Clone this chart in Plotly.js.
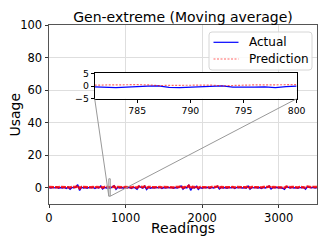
<!DOCTYPE html>
<html><head><meta charset="utf-8">
<script src="https://cdn.plot.ly/plotly-3.0.1.min.js"></script>
<style>html,body{margin:0;padding:0;background:#fff}#chart{width:326px;height:244px}</style>
</head><body><div id="chart"></div>
<script>
// ---- data ----
const chartTitle = "Gen-extreme (Moving average)";
const xTitle = "Readings";
const yTitle = "Usage";
const seriesNames = ["Actual", "Prediction"];
const readingStart = 0;
const readingStep = 25;
const actual = [
 0.1,-0.2,0.2,-0.1,0.3,-0.3,0.1,-0.2,0.2,-0.4,
 0.3,-0.9,0.2,-0.1,0.3,1.9,-1.7,0.4,-0.2,0.1,
 -0.3,0.2,-0.1,0.3,-0.5,0.2,-0.1,1.0,-0.8,0.2,
 -0.2,0.1,-0.3,0.2,1.2,-1.0,0.3,-0.2,0.1,-0.3,
 0.2,-0.1,0.3,-0.4,0.2,-0.1,-0.9,0.8,0.1,-0.2,
 1.0,-1.1,0.2,-0.3,0.1,-0.2,0.3,-0.1,0.2,-0.4,
 0.1,-0.2,0.3,-0.1,0.2,-0.3,0.1,-0.2,0.3,1.1,
 -0.9,0.2,-0.1,1.8,-1.6,0.3,-0.2,0.9,-1.0,0.1,
 -0.3,0.2,-0.1,0.3,-0.4,0.2,-0.1,0.3,0.9,-0.8,
 0.2,-0.2,0.1,-0.3,0.2,-0.1,0.3,-0.5,0.2,-0.1,
 0.3,-0.2,0.1,-0.3,1.0,-0.9,0.2,-0.1,0.3,-0.2,
 0.1,-0.4,0.2,-0.1,0.3,1.0,-0.8,0.2,-0.1,0.3,
 -0.2,0.1,-0.3,-1.0,0.7,0.2,-0.1,0.3,-0.2,0.1,
 -0.3,0.2,-0.1,0.3,-0.9,0.6,0.2,-0.1,0.3,-0.2,0.1
];
const prediction = [
 0.4,0.3,0.5,0.3,0.4,0.3,0.5,0.4,0.3,0.4,
 0.5,0.2,0.4,0.3,0.5,1.2,-0.3,0.5,0.4,0.3,
 0.4,0.5,0.3,0.4,0.2,0.5,0.3,0.8,0.0,0.4,
 0.3,0.5,0.4,0.3,0.8,-0.1,0.5,0.3,0.4,0.3,
 0.5,0.3,0.4,0.2,0.5,0.3,0.0,0.8,0.4,0.3,
 0.8,-0.1,0.4,0.3,0.5,0.3,0.4,0.3,0.5,0.2,
 0.4,0.3,0.5,0.3,0.4,0.2,0.4,0.3,0.5,0.9,
 0.0,0.4,0.3,1.2,-0.4,0.5,0.3,0.8,-0.1,0.4,
 0.3,0.5,0.3,0.4,0.2,0.5,0.3,0.4,0.8,0.0,
 0.4,0.3,0.5,0.3,0.4,0.3,0.5,0.2,0.4,0.3,
 0.5,0.3,0.4,0.3,0.9,0.0,0.4,0.3,0.5,0.3,
 0.4,0.2,0.5,0.3,0.4,0.8,0.0,0.4,0.3,0.5,
 0.3,0.4,0.2,0.0,0.7,0.4,0.3,0.5,0.3,0.4,
 0.2,0.5,0.3,0.4,0.0,0.7,0.4,0.3,0.5,0.3,0.4
];
const zoomReadings = [781,782,783,784,785,786,787,788,789,790,791,792,793,794,795,796,797,798,799,800];
const zoomActual = [-0.3,-0.5,-0.6,-0.4,-0.1,0.0,0.1,-0.5,-0.6,-0.4,-0.1,0.0,0.1,-0.4,-0.5,-0.4,-0.3,-0.6,-0.2,0.0];
const zoomPrediction = [0.4,0.5,0.5,0.6,0.6,0.5,0.2,0.3,0.4,0.5,0.5,0.4,0.1,0.3,0.4,0.5,0.5,0.5,0.6,0.6];
const xTicks = [0,1000,2000,3000];
const yTicks = [0,20,40,60,80,100];
const zoomXTicks = [785,790,795,800];
const zoomYTicks = [-5,0,5];

// ---- layout settings ----
const W = 326, H = 244;
const M = {l:49, r:9, t:25, b:40};
const xRange = [0, 3500];
const yRange = [-10, 100];
const zoomXRange = [781, 800];
const zoomYRange = [-5.2, 5.5];
const insetDomX = [0.1705, 0.924];
const insetDomY = [0.588, 0.7335];
const font = "DejaVu Sans, sans-serif";

function toMainX(d){ return xRange[0] + d*(xRange[1]-xRange[0]); }
function toMainY(d){ return yRange[0] + d*(yRange[1]-yRange[0]); }
const pw = W - M.l - M.r, ph = H - M.t - M.b;
function px2paperX(px){ return (px - M.l)/pw; }
function px2paperY(py){ return (H - M.b - py)/ph; }

const blue = "#0000ff";
const red = "rgba(255,0,0,0.85)";
const redLight = "rgba(255,0,0,0.6)";
const seriesColors = [blue, redLight];
const seriesDash = ["solid", "2px,1.5px"];

const traces = [
  {x0: readingStart, dx: readingStep, y: actual, type:"scatter", mode:"lines", name:seriesNames[0],
   line:{color:blue, width:1.4}, xaxis:"x", yaxis:"y"},
  {x0: readingStart, dx: readingStep, y: prediction, type:"scatter", mode:"lines", name:seriesNames[1],
   line:{color:red, width:2.5, dash:"5px,1px"}, xaxis:"x", yaxis:"y"},
  {x: zoomReadings, y: zoomActual, type:"scatter", mode:"lines",
   line:{color:blue, width:1.3}, xaxis:"x2", yaxis:"y2"},
  {x: zoomReadings, y: zoomPrediction, type:"scatter", mode:"lines",
   line:{color:redLight, width:1.2, dash:"2px,1.5px"}, xaxis:"x2", yaxis:"y2"}
];

const gray = "#999999";
const shapes = [
  {type:"rect", xref:"x2 domain", yref:"y2 domain", x0:0, x1:1, y0:0, y1:1,
   fillcolor:"#ffffff", line:{width:0}, layer:"below"},
  {type:"rect", xref:"x", yref:"y", x0:zoomXRange[0], x1:zoomXRange[1], y0:zoomYRange[0], y1:zoomYRange[1],
   line:{color:gray, width:1}, fillcolor:"rgba(0,0,0,0)"},
  {type:"line", xref:"x", yref:"y", x0:zoomXRange[0], y0:zoomYRange[0], x1:toMainX(insetDomX[0]), y1:toMainY(insetDomY[0]),
   line:{color:gray, width:1}},
  {type:"line", xref:"x", yref:"y", x0:zoomXRange[1], y0:zoomYRange[0], x1:toMainX(insetDomX[1]), y1:toMainY(insetDomY[0]),
   line:{color:gray, width:1}}
];

// manual legend (matplotlib style, rounded box)
const legBox = {x0:209, x1:312, y0:32, y1:70};
const legRows = [42.3, 59];
const annotations = [];
(function(){
  const r = 3;
  const X0 = legBox.x0, X1 = legBox.x1, Y0 = legBox.y0, Y1 = legBox.y1;
  const path = `M ${X0+r} ${Y0} L ${X1-r} ${Y0} Q ${X1} ${Y0} ${X1} ${Y0+r} L ${X1} ${Y1-r} Q ${X1} ${Y1} ${X1-r} ${Y1} ` +
               `L ${X0+r} ${Y1} Q ${X0} ${Y1} ${X0} ${Y1-r} L ${X0} ${Y0+r} Q ${X0} ${Y0} ${X0+r} ${Y0} Z`;
  shapes.push({type:"path", xref:"paper", yref:"paper", xsizemode:"pixel", ysizemode:"pixel",
    xanchor:0, yanchor:1, path: path.replace(/(-?[\d.]+) (-?[\d.]+)/g, (m, a, b) => `${(+a - M.l).toFixed(2)} ${(M.t - +b).toFixed(2)}`),
    fillcolor:"rgba(255,255,255,0.85)", line:{color:"#d6d6d6", width:1}});
})();
seriesNames.forEach((name, i) => {
  shapes.push({type:"line", xref:"paper", yref:"paper",
    x0:px2paperX(213.5), x1:px2paperX(238.5), y0:px2paperY(legRows[i]), y1:px2paperY(legRows[i]),
    line:{color:seriesColors[i], width:1.2, dash:seriesDash[i]}});
  annotations.push({xref:"paper", yref:"paper", x:px2paperX(247), y:px2paperY(legRows[i]),
    xanchor:"left", yanchor:"middle", text:name, showarrow:false, font:{size:12, family:font, color:"#000"}});
});
// axis titles placed as annotations
annotations.push({xref:"paper", yref:"paper", x:0.5, y:px2paperY(228.5), xanchor:"center", yanchor:"middle",
  text:xTitle, showarrow:false, font:{size:14, family:font, color:"#000"}});
annotations.push({xref:"paper", yref:"paper", x:px2paperX(14.5), y:px2paperY(115), xanchor:"center", yanchor:"middle",
  text:yTitle, textangle:-90, showarrow:false, font:{size:14, family:font, color:"#000"}});

const layout = {
  width:W, height:H,
  margin:M,
  paper_bgcolor:"#ffffff", plot_bgcolor:"#ffffff",
  font:{family:font, color:"#000", size:11.5},
  title:{text:chartTitle, font:{size:14, family:font}, x:0.5, xref:"paper", xanchor:"center", y:0.93, yanchor:"middle"},
  showlegend:false,
  xaxis:{domain:[0,1], range:xRange, tickvals:xTicks, ticks:"outside", ticklen:3, tickcolor:"#333",
    showline:true, mirror:true, linecolor:"#555", linewidth:1, showgrid:true, gridcolor:"#dedede", gridwidth:1,
    zeroline:false, tickfont:{size:11.5}, anchor:"y"},
  yaxis:{domain:[0,1], range:yRange, tickvals:yTicks, ticks:"outside", ticklen:3.5, tickcolor:"#333",
    showline:true, mirror:true, linecolor:"#555", linewidth:1, showgrid:true, gridcolor:"#dedede", gridwidth:1,
    zeroline:false, tickfont:{size:11.5}, anchor:"x"},
  xaxis2:{domain:insetDomX, range:zoomXRange, tickvals:zoomXTicks, ticks:"outside", ticklen:3, tickcolor:"#000",
    showline:true, mirror:true, linecolor:"#000", linewidth:1, showgrid:false, zeroline:false,
    tickfont:{size:9.3}, anchor:"y2"},
  yaxis2:{domain:insetDomY, range:zoomYRange, tickvals:zoomYTicks, ticks:"outside", ticklen:3, tickcolor:"#000",
    showline:true, mirror:true, linecolor:"#000", linewidth:1, showgrid:false, zeroline:false,
    tickfont:{size:9.3}, anchor:"x2"},
  shapes:shapes,
  annotations:annotations
};

Plotly.newPlot("chart", traces, layout, {staticPlot:true, displayModeBar:false});
</script>
</body></html>
